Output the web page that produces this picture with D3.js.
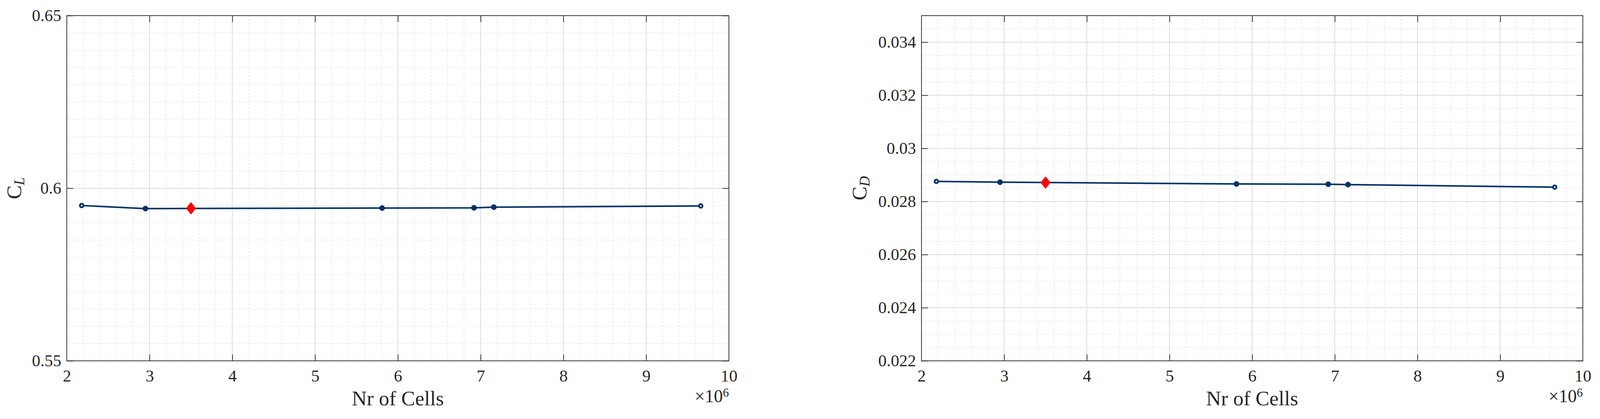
<!DOCTYPE html>
<html>
<head>
<meta charset="utf-8">
<script src="https://cdn.jsdelivr.net/npm/d3@7"></script>
<style>
  html, body { margin: 0; padding: 0; background: #fff; overflow: hidden; }
  svg { display: block; }
  svg text { font-family: "Liberation Serif", "Times New Roman", serif; fill: #262626; }
</style>
</head>
<body>
<svg id="chart" width="4168" height="1073"></svg>
<script>
// ---- data ----
const cells = [2.18, 2.95, 5.81, 6.92, 7.16, 9.66];          // ×10^6
const clValues = [0.59498, 0.59410, 0.59425, 0.59432, 0.59451, 0.59487];
const cdValues = [0.028757, 0.028728, 0.02866, 0.02865, 0.028637, 0.028540];
const selectedCells = [3.5];
const selectedCl = [0.59418];
const selectedCd = [0.028712];
const xTicks = [2, 3, 4, 5, 6, 7, 8, 9, 10];
const clTicks = [0.55, 0.6, 0.65];
const cdTicks = [0.022, 0.024, 0.026, 0.028, 0.030, 0.032, 0.034];
const clTickLabels = ["0.55", "0.6", "0.65"];
const cdTickLabels = ["0.022", "0.024", "0.026", "0.028", "0.03", "0.032", "0.034"];

// ---- layout ----
const svg = d3.select("#chart");
const plotTop = 40, plotBottom = 924;
const lineColor = "#003366";
const axisColor = "#262626";
const tickFont = 43;
const tickLen = 16.5;

function panel(opts) {
  const { left, right, yDomain, yVals, yTicks, yTickLabels, minorStep, ySel, labelMain, labelSub, labelX } = opts;
  const x = d3.scaleLinear().domain([2, 10]).range([left, right]);
  const y = d3.scaleLinear().domain(yDomain).range([plotBottom, plotTop]);
  const g = svg.append("g");

  // minor grid
  const xMinor = d3.range(2, 10.0001, 0.2).filter(v => Math.abs(v - Math.round(v)) > 1e-6);
  const nMinor = Math.round((yDomain[1] - yDomain[0]) / minorStep);
  const yMinor = d3.range(0, nMinor + 1).map(i => yDomain[0] + i * minorStep)
      .filter(v => !yTicks.some(t => Math.abs(t - v) < minorStep * 1e-3))
      .filter(v => Math.abs(v - yDomain[0]) > minorStep * 1e-3 && Math.abs(v - yDomain[1]) > minorStep * 1e-3);
  g.append("g").selectAll("line").data(xMinor).join("line")
    .attr("x1", d => x(d)).attr("x2", d => x(d)).attr("y1", plotTop).attr("y2", plotBottom)
    .attr("stroke", "#e0e0e0").attr("stroke-width", 1.5).attr("stroke-dasharray", "4,5");
  g.append("g").selectAll("line").data(yMinor).join("line")
    .attr("x1", left).attr("x2", right).attr("y1", d => y(d)).attr("y2", d => y(d))
    .attr("stroke", "#e0e0e0").attr("stroke-width", 1.5).attr("stroke-dasharray", "3,4");
  // major grid
  g.append("g").selectAll("line").data(xTicks).join("line")
    .attr("x1", d => x(d)).attr("x2", d => x(d)).attr("y1", plotTop).attr("y2", plotBottom)
    .attr("stroke", "#dcdcdc").attr("stroke-width", 2);
  g.append("g").selectAll("line").data(yTicks).join("line")
    .attr("x1", left).attr("x2", right).attr("y1", d => y(d)).attr("y2", d => y(d))
    .attr("stroke", "#dcdcdc").attr("stroke-width", 2);

  // data line
  const pts = cells.map((c, i) => [c, yVals[i]]);
  g.append("path").datum(pts)
    .attr("fill", "none").attr("stroke", lineColor).attr("stroke-width", 4)
    .attr("stroke-linejoin", "round")
    .attr("d", d3.line().x(d => x(d[0])).y(d => y(d[1])));
  g.append("g").selectAll("circle").data(pts).join("circle")
    .attr("cx", d => x(d[0])).attr("cy", d => y(d[1]))
    .attr("r", (d, i) => (i === 0 || i === pts.length - 1) ? 4.5 : 7)
    .attr("fill", (d, i) => (i === 0 || i === pts.length - 1) ? "#ffffff" : lineColor)
    .attr("stroke", lineColor)
    .attr("stroke-width", (d, i) => (i === 0 || i === pts.length - 1) ? 4.6 : 0.5);

  // selected point (diamond)
  g.append("g").selectAll("path").data(selectedCells.map((c, i) => [c, ySel[i]])).join("path")
    .attr("transform", d => `translate(${x(d[0])},${y(d[1])})`)
    .attr("d", "M0,-15.5 L12,0 L0,15.5 L-12,0 Z")
    .attr("fill", "#ff0000").attr("stroke", "#ff0000").attr("stroke-width", 1);

  // axes
  const axB = g.append("g").attr("transform", `translate(0,${plotBottom})`)
    .call(d3.axisBottom(x).tickValues(xTicks).tickFormat(d3.format("d")).tickSizeInner(-tickLen).tickSizeOuter(0).tickPadding(22));
  const axT = g.append("g").attr("transform", `translate(0,${plotTop})`)
    .call(d3.axisTop(x).tickValues(xTicks).tickFormat("").tickSizeInner(-tickLen).tickSizeOuter(0));
  const axL = g.append("g").attr("transform", `translate(${left},0)`)
    .call(d3.axisLeft(y).tickValues(yTicks).tickFormat((d, i) => yTickLabels[i]).tickSizeInner(-tickLen).tickSizeOuter(0).tickPadding(14));
  const axR = g.append("g").attr("transform", `translate(${right},0)`)
    .call(d3.axisRight(y).tickValues(yTicks).tickFormat("").tickSizeInner(-tickLen).tickSizeOuter(0));
  [axB, axT, axL, axR].forEach(a => {
    a.attr("font-family", null).attr("font-size", null);
    a.select(".domain").remove();
    a.selectAll(".tick line").attr("stroke", axisColor).attr("stroke-width", 1.8);
    a.selectAll("text").attr("font-size", tickFont).style("fill", axisColor);
  });
  axB.selectAll(".tick line").filter(d => d === 2 || d === 10).remove();
  axT.selectAll(".tick line").filter(d => d === 2 || d === 10).remove();

  // box
  g.append("rect").attr("x", left).attr("y", plotTop).attr("width", right - left).attr("height", plotBottom - plotTop)
    .attr("fill", "none").attr("stroke", axisColor).attr("stroke-width", 1.8);

  // x label
  g.append("text").attr("x", (left + right) / 2).attr("y", 1038)
    .attr("text-anchor", "middle").attr("font-size", 53).text("Nr of Cells");
  // exponent
  const ex = g.append("text").attr("x", right).attr("y", 1030).attr("text-anchor", "end").attr("font-size", 46);
  ex.append("tspan").text("×10");
  ex.append("tspan").attr("dy", -14).attr("font-size", 31).text("6");

  // y label
  const yl = g.append("text")
    .attr("transform", `translate(${labelX},${(plotTop + plotBottom) / 2}) rotate(-90)`)
    .attr("text-anchor", "middle").attr("font-size", 53);
  yl.append("tspan").text(labelMain);
  yl.append("tspan").attr("dy", 8).attr("font-size", 37).attr("font-style", "italic").text(labelSub);
}

panel({ left: 171, right: 1866, yDomain: [0.55, 0.65], yVals: clValues, yTicks: clTicks,
        yTickLabels: clTickLabels, minorStep: 0.005, ySel: selectedCl, labelMain: "C", labelSub: "L", labelX: 54 });
panel({ left: 2359, right: 4052, yDomain: [0.022, 0.035], yVals: cdValues, yTicks: cdTicks,
        yTickLabels: cdTickLabels, minorStep: 0.0005, ySel: selectedCd, labelMain: "C", labelSub: "D", labelX: 2218 });
</script>
</body>
</html>
